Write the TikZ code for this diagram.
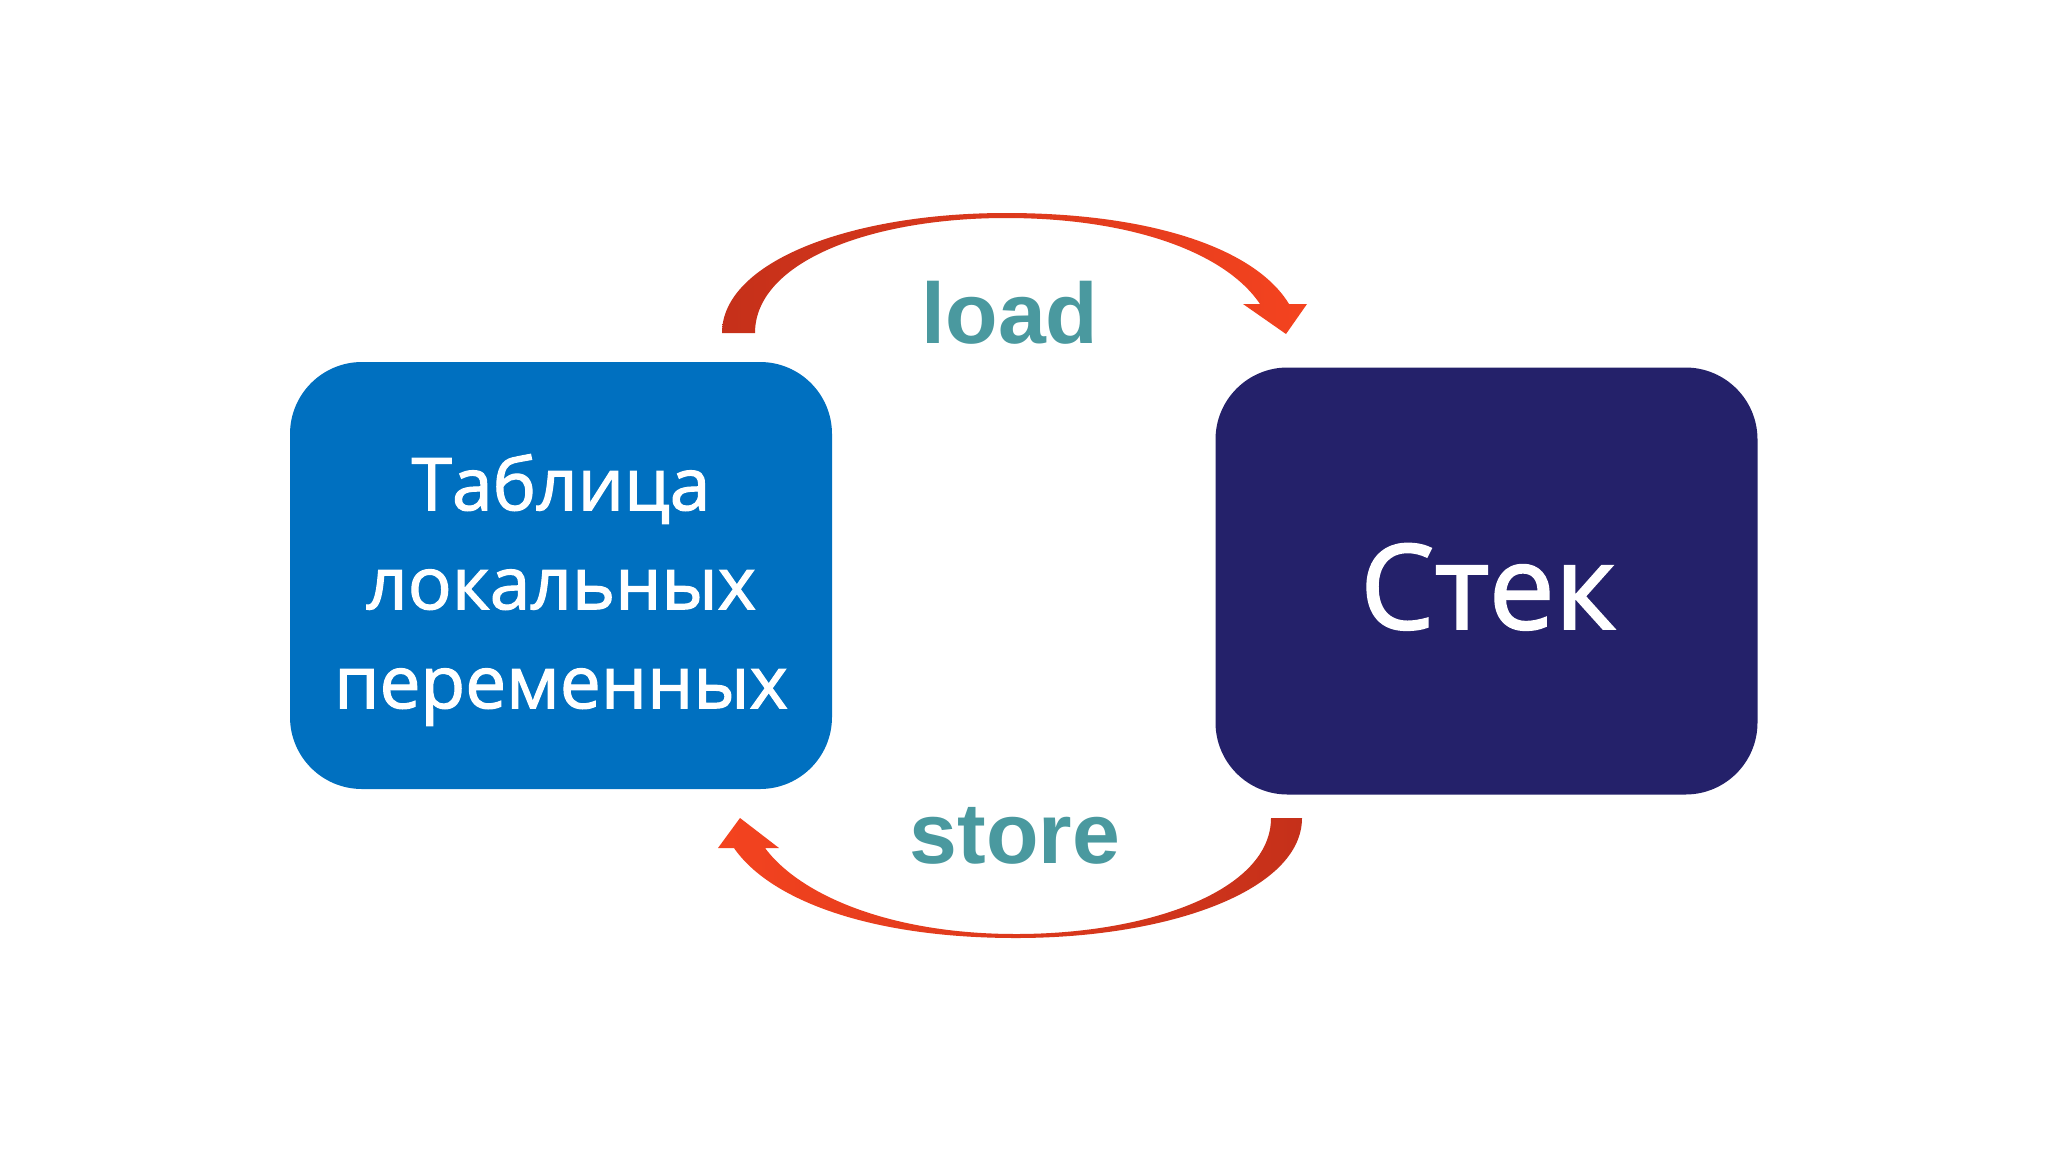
\documentclass[tikz,border=0pt]{standalone}
\usepackage{fontspec}
\setmainfont{Open Sans}
\newfontfamily\boxfont{Open Sans}[FakeBold=1.6]
\newfontfamily\opfont{Liberation Sans}
\definecolor{tabblue}{HTML}{0070C0}
\definecolor{stacknavy}{HTML}{24216A}
\definecolor{opteal}{HTML}{4A999F}
\definecolor{arrdark}{HTML}{C5301A}
\definecolor{arrbright}{HTML}{F4431F}
\tikzset{
  bigbox/.style={rounded corners=72pt, minimum width=542pt, minimum height=427pt, draw=none, inner sep=0pt},
  boxtext/.style={text=white, align=center, inner sep=0pt},
  optext/.style={text=opteal, font=\opfont\bfseries\fontsize{86}{100}\selectfont, inner sep=0pt}
}
\begin{document}
\begin{tikzpicture}[x=1pt,y=-1pt]
\useasboundingbox[fill=white] (0,0) rectangle (2048,1152);
\node[bigbox, fill=tabblue] (tab) at (561,575.5) {};
\node[bigbox, fill=stacknavy] (stack) at (1486.5,581) {};
\node[boxtext, font=\boxfont\fontsize{73}{99}\selectfont] (tabtext) at (561,590) {Таблица\\локальных\\переменных};
\node[boxtext, font=\boxfont\fontsize{118}{140}\selectfont, anchor=base] (stacktext) at (1488,629) {Стек};
\node[optext, anchor=base] (load) at (1010,343) {load};
\node[optext, anchor=base] (store) at (1015,863) {store};
% load arrow
\shade[left color=arrdark, right color=arrbright]
 (722,333) .. controls (722,262) and (850,213) .. (1006,213)
 .. controls (1150,213) and (1255,248) .. (1289,304)
 -- (1307,304) -- (1286,334) -- (1243,304) -- (1260,304)
 .. controls (1225,252) and (1130,218) .. (1006,218)
 .. controls (870,218) and (755,262) .. (755,333) -- cycle;
% store arrow
\shade[left color=arrbright, right color=arrdark]
 (1302,818) .. controls (1302,890) and (1170,938) .. (1016,938)
 .. controls (870,938) and (770,900) .. (734,848)
 -- (718,848) -- (740,818) -- (779,848) -- (765,848)
 .. controls (800,895) and (890,934) .. (1016,934)
 .. controls (1150,934) and (1271,890) .. (1271,818) -- cycle;
\end{tikzpicture}
\end{document}
